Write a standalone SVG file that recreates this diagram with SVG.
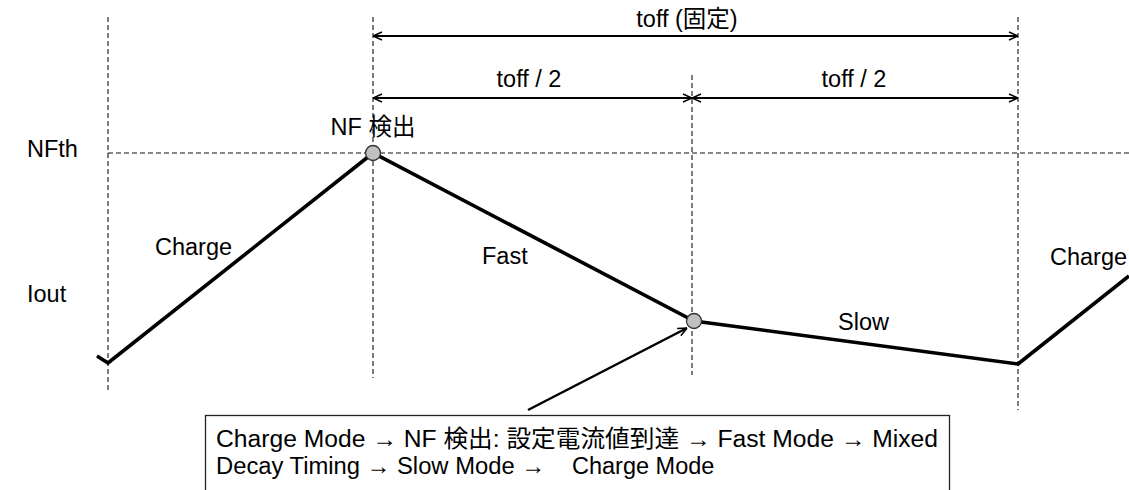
<svg xmlns="http://www.w3.org/2000/svg" width="1129" height="490" viewBox="0 0 1129 490">
<style>
.t{font-family:"Liberation Sans","Noto Sans CJK JP",sans-serif;font-size:23.5px;fill:#000}
.b{font-family:"Liberation Sans","Noto Sans CJK JP",sans-serif;font-size:23.5px;fill:#000}
.d{stroke:#111;stroke-width:1.1;stroke-dasharray:5 3;fill:none}
.dim{stroke:#000;stroke-width:2;fill:none}
.w{stroke:#000;stroke-width:3.6;fill:none;stroke-linejoin:miter}
.dot{fill:#c0c0c0;stroke:#333;stroke-width:1.3}
</style>
<defs>
<marker id="ah" viewBox="0 0 10 10" refX="10" refY="5" markerWidth="10" markerHeight="10" markerUnits="userSpaceOnUse" orient="auto-start-reverse">
<path d="M1,1 L10,5 L1,9" fill="none" stroke="#000" stroke-width="1.5"/>
</marker>
</defs>
<rect width="1129" height="490" fill="#fff"/>
<g id="guides">
<line class="d" x1="108" y1="17" x2="108" y2="393"/>
<line class="d" x1="373" y1="17" x2="373" y2="378"/>
<line class="d" x1="692" y1="75" x2="692" y2="375"/>
<line class="d" x1="1018" y1="17" x2="1018" y2="410"/>
<line class="d" x1="108" y1="153" x2="1129" y2="153"/>
</g>
<g id="connectors">
<line class="dim" x1="373" y1="36" x2="1018" y2="36" marker-start="url(#ah)" marker-end="url(#ah)"/>
<line class="dim" x1="373" y1="98" x2="692" y2="98" marker-start="url(#ah)" marker-end="url(#ah)"/>
<line class="dim" x1="692" y1="98" x2="1018" y2="98" marker-start="url(#ah)" marker-end="url(#ah)"/>
<line stroke="#000" stroke-width="2.5" x1="528" y1="410" x2="687" y2="328" marker-end="url(#ah)"/>
</g>
<g id="waveform">
<polyline class="w" points="97,356 108,363 373,153 694,321 1018,364 1129,276"/>
</g>
<g id="nf-point"><circle class="dot" cx="373" cy="153" r="7.5"/></g>
<g id="mid-point"><circle class="dot" cx="694" cy="321" r="7.5"/></g>
<g id="labels">
<text class="t" x="687" y="27" text-anchor="middle">toff (固定)</text>
<text class="t" x="529" y="87" text-anchor="middle">toff / 2</text>
<text class="t" x="854" y="87" text-anchor="middle">toff / 2</text>
<text class="t" x="373" y="135" text-anchor="middle">NF 検出</text>
<text class="t" x="27" y="157">NFth</text>
<text class="t" x="27" y="302">Iout</text>
<text class="t" x="155" y="255">Charge</text>
<text class="t" x="482" y="264">Fast</text>
<text class="t" x="838" y="330">Slow</text>
<text class="t" x="1050" y="265">Charge</text>
</g>
<g id="note">
<rect x="205.5" y="415.5" width="744" height="90" fill="#fff" stroke="#222" stroke-width="1.3"/>
<text class="b" x="216" y="447" textLength="722" lengthAdjust="spacingAndGlyphs">Charge Mode → NF 検出: 設定電流値到達 → Fast Mode → Mixed</text>
<text class="b" x="216" y="474" textLength="329" lengthAdjust="spacingAndGlyphs">Decay Timing → Slow Mode →</text>
<text class="b" x="572" y="474">Charge Mode</text>
</g>
</svg>
